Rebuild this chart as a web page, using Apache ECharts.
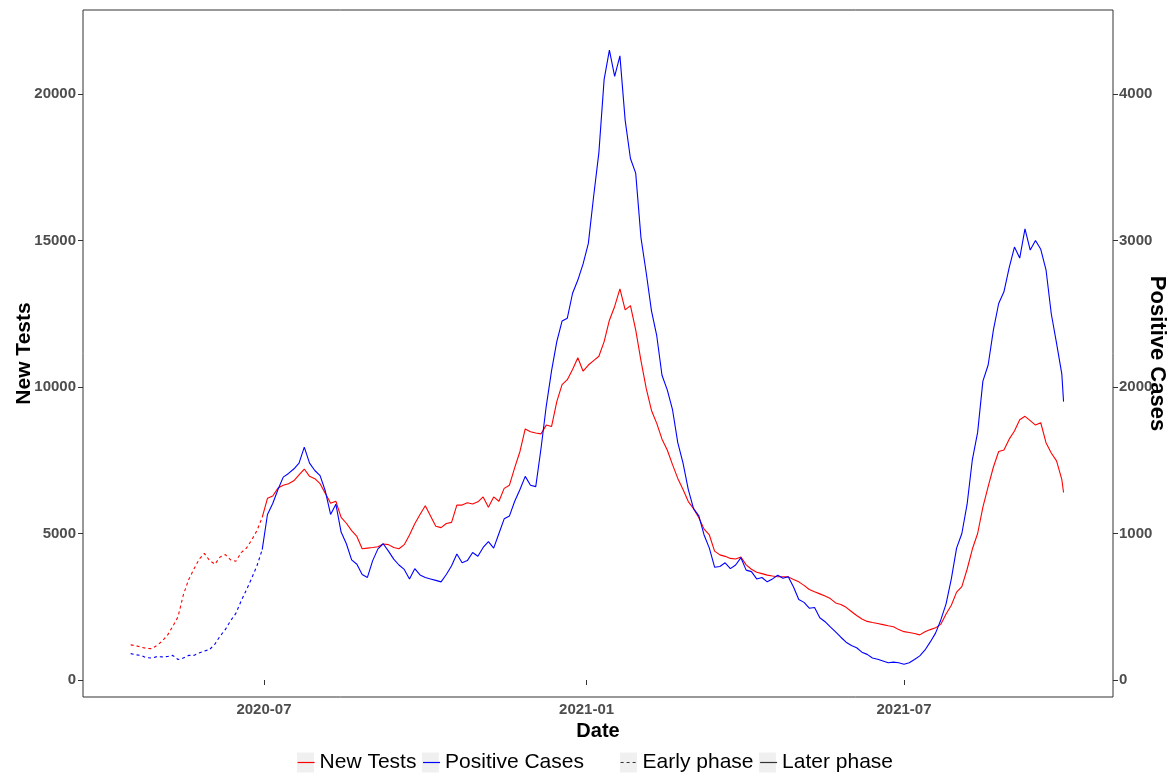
<!DOCTYPE html>
<html>
<head>
<meta charset="utf-8">
<script src="https://cdn.jsdelivr.net/npm/echarts@6/dist/echarts.min.js"></script>
<style>
html,body{margin:0;padding:0;background:#fff;}
#chart{width:1174px;height:776px;}
</style>
</head>
<body>
<div id="chart"></div>
<script>
// ---- data ----
const startDate = '2020-04-16';      // first day of the series
const endDate = '2021-09-30';        // last day of the series
const sampleStepDays = 3;            // values read every 3 days
const earlyPhaseLastDate = '2020-06-30';

const newTests = [
  1200,1170,1120,1080,1070,1180,1330,1530,1830,2160,
  2900,3420,3780,4120,4320,4080,3950,4200,4280,4100,
  4050,4350,4500,4780,5100,5550,6200,6280,6550,6650,
  6700,6800,7000,7200,6950,6870,6700,6370,6030,6100,
  5550,5350,5100,4900,4480,4500,4520,4550,4640,4620,
  4520,4480,4620,4950,5330,5650,5950,5600,5250,5200,
  5340,5380,5970,5970,6050,6010,6080,6250,5900,6250,
  6100,6540,6650,7250,7800,8570,8470,8430,8400,8700,
  8650,9500,10080,10250,10600,11000,10540,10750,10900,11050,
  11550,12280,12750,13350,12630,12780,11950,10900,9950,9200,
  8760,8220,7850,7350,6880,6500,6090,5850,5540,5150,
  4950,4400,4270,4220,4150,4130,4200,3930,3780,3680,
  3630,3580,3550,3525,3525,3520,3430,3350,3230,3090,
  3010,2940,2870,2780,2630,2580,2480,2340,2200,2080,
  2000,1960,1930,1890,1850,1820,1720,1650,1620,1590,
  1540,1650,1720,1780,1900,2250,2550,3000,3190,3780,
  4470,5000,5900,6600,7270,7800,7850,8220,8500,8880,
  9000,8850,8700,8780,8100,7750,7480,6850,6400
];

const positiveCases = [
  180,172,168,152,150,160,158,160,168,140,
  150,168,168,185,198,208,245,300,345,405,
  455,540,615,695,780,890,1130,1205,1300,1385,
  1410,1440,1480,1590,1480,1430,1395,1290,1130,1200,
  1010,930,820,790,720,700,815,895,930,880,
  825,785,755,690,760,717,700,690,680,670,
  720,780,860,800,815,870,845,905,944,900,
  1000,1100,1120,1220,1300,1390,1330,1320,1580,1870,
  2110,2310,2450,2470,2640,2730,2840,2980,3300,3600,
  4100,4300,4120,4260,3820,3560,3460,3020,2780,2520,
  2350,2080,1980,1845,1620,1480,1300,1170,1120,990,
  900,770,775,800,760,785,835,750,740,690,
  700,670,690,715,695,705,635,550,530,490,
  495,425,398,362,328,292,258,236,220,190,
  175,150,142,130,118,122,118,108,118,140,
  165,205,260,320,410,520,690,900,1000,1200,
  1505,1690,2040,2150,2390,2570,2650,2815,2955,2880,
  3080,2935,3000,2940,2800,2500,2300,2090,1900
];

const xTickDates = ['2020-07-01', '2021-01-01', '2021-07-01'];
const leftTicks = [0, 5000, 10000, 15000, 20000];
const rightTicks = [0, 1000, 2000, 3000, 4000];

const seriesNames = ['New Tests', 'Positive Cases'];
const phaseNames = ['Early phase', 'Later phase'];

// ---- helpers ----
const DAY = 86400000;
function ts(s) { const p = s.split('-').map(Number); return Date.UTC(p[0], p[1] - 1, p[2]); }

const dates = [];
for (let t = ts(startDate); t <= ts(endDate); t += sampleStepDays * DAY) dates.push(t);
if (dates[dates.length - 1] < ts(endDate)) dates.push(ts(endDate));

const splitT = ts(earlyPhaseLastDate);
let lastEarly = 0;
dates.forEach((t, i) => { if (t <= splitT) lastEarly = i; });

function pairs(vals, from, to) {
  const out = [];
  for (let i = from; i <= to; i++) out.push([dates[i], vals[i]]);
  return out;
}
const n = dates.length - 1;

// axis ranges (ggplot-style expansion)
const xMin = ts(startDate) - 27.2 * DAY;
const xMax = ts(startDate) + 560.2 * DAY;
const yLeftMin = -580, yLeftMax = 22867;
const ratio = 5;

const FONT = 'Liberation Sans, Arial, Helvetica, sans-serif';
const RED = '#ff0000', BLUE = '#0000ff', DARK = '#333333';
const LW = 1.1;
const DASH = [3, 3];

const tickLabelStyle = { fontSize: 15, fontWeight: 'bold', color: '#4d4d4d', fontFamily: FONT };
const titleStyle = { fontSize: 21, fontWeight: 'bold', color: '#000', fontFamily: FONT };
const plainNumber = v => String(v);

function lineSeries(name, data, color, dashed, yIdx) {
  return {
    name, type: 'line', data, yAxisIndex: yIdx,
    symbol: 'none', showSymbol: false, silent: true,
    lineStyle: { color, width: LW, type: dashed ? DASH : 'solid' },
    itemStyle: { color },
    animation: false
  };
}

const legendBase = {
  orient: 'horizontal', top: 752, itemWidth: 17, itemHeight: 20, itemGap: 6,
  padding: 0, selectedMode: false,
  textStyle: { fontSize: 21, color: '#000', fontFamily: FONT }
};
function bgLegend(left, data) {
  return Object.assign({}, legendBase, {
    left, data, icon: 'rect', z: 2,
    itemStyle: { color: '#f0f0f0', borderWidth: 0, opacity: 1 },
    lineStyle: { width: 0 },
    textStyle: Object.assign({}, legendBase.textStyle, { color: 'rgba(0,0,0,0)' })
  });
}
function lineLegend(left, data) {
  return Object.assign({}, legendBase, {
    left, data, z: 3,
    itemStyle: { opacity: 0 },
    lineStyle: { width: 1.2 }
  });
}

const chart = echarts.init(document.getElementById('chart'), null, { renderer: 'canvas' });
chart.setOption({
  animation: false,
  backgroundColor: '#ffffff',
  grid: {
    left: 83, right: 61, top: 10, bottom: 79,
    containLabel: false, outerBoundsMode: 'none',
    show: true, borderColor: DARK, borderWidth: 1, backgroundColor: 'transparent'
  },
  legend: [
    bgLegend(297, seriesNames), lineLegend(297, seriesNames),
    bgLegend(620, phaseNames), lineLegend(620, phaseNames)
  ],
  xAxis: {
    type: 'value', min: xMin, max: xMax,
    name: 'Date', nameLocation: 'middle', nameGap: 24, nameMoveOverlap: false,
    nameTextStyle: Object.assign({}, titleStyle, { fontSize: 20 }),
    axisLine: { show: false },
    splitLine: { show: false },
    axisTick: { show: true, customValues: xTickDates.map(ts), length: 5, lineStyle: { color: DARK, width: 1 } },
    axisLabel: Object.assign({
      customValues: xTickDates.map(ts), margin: 5, hideOverlap: false,
      formatter: function (v) {
        const d = new Date(v);
        return d.getUTCFullYear() + '-' + String(d.getUTCMonth() + 1).padStart(2, '0');
      }
    }, tickLabelStyle)
  },
  yAxis: [
    {
      type: 'value', position: 'left', min: yLeftMin, max: yLeftMax,
      name: 'New Tests', nameLocation: 'middle', nameGap: 48, nameMoveOverlap: false,
      nameTextStyle: titleStyle,
      axisLine: { show: false }, splitLine: { show: false },
      axisTick: { show: true, customValues: leftTicks, length: 5, lineStyle: { color: DARK, width: 1 } },
      axisLabel: Object.assign({ customValues: leftTicks, margin: 7, formatter: plainNumber }, tickLabelStyle)
    },
    {
      type: 'value', position: 'right', min: yLeftMin / ratio, max: yLeftMax / ratio,
      name: 'Positive Cases', nameLocation: 'middle', nameGap: 33, nameRotate: -90, nameMoveOverlap: false,
      nameTextStyle: Object.assign({}, titleStyle, { fontSize: 22 }),
      axisLine: { show: false }, splitLine: { show: false },
      axisTick: { show: true, customValues: rightTicks, length: 5, lineStyle: { color: DARK, width: 1 } },
      axisLabel: Object.assign({ customValues: rightTicks, margin: 6, formatter: plainNumber }, tickLabelStyle)
    }
  ],
  series: [
    lineSeries('New Tests', pairs(newTests, lastEarly, n), RED, false, 0),
    lineSeries('New Tests', pairs(newTests, 0, lastEarly), RED, true, 0),
    lineSeries('Positive Cases', pairs(positiveCases, lastEarly, n), BLUE, false, 1),
    lineSeries('Positive Cases', pairs(positiveCases, 0, lastEarly), BLUE, true, 1),
    lineSeries('Early phase', [], DARK, true, 0),
    lineSeries('Later phase', [], DARK, false, 0)
  ]
});
</script>
</body>
</html>
